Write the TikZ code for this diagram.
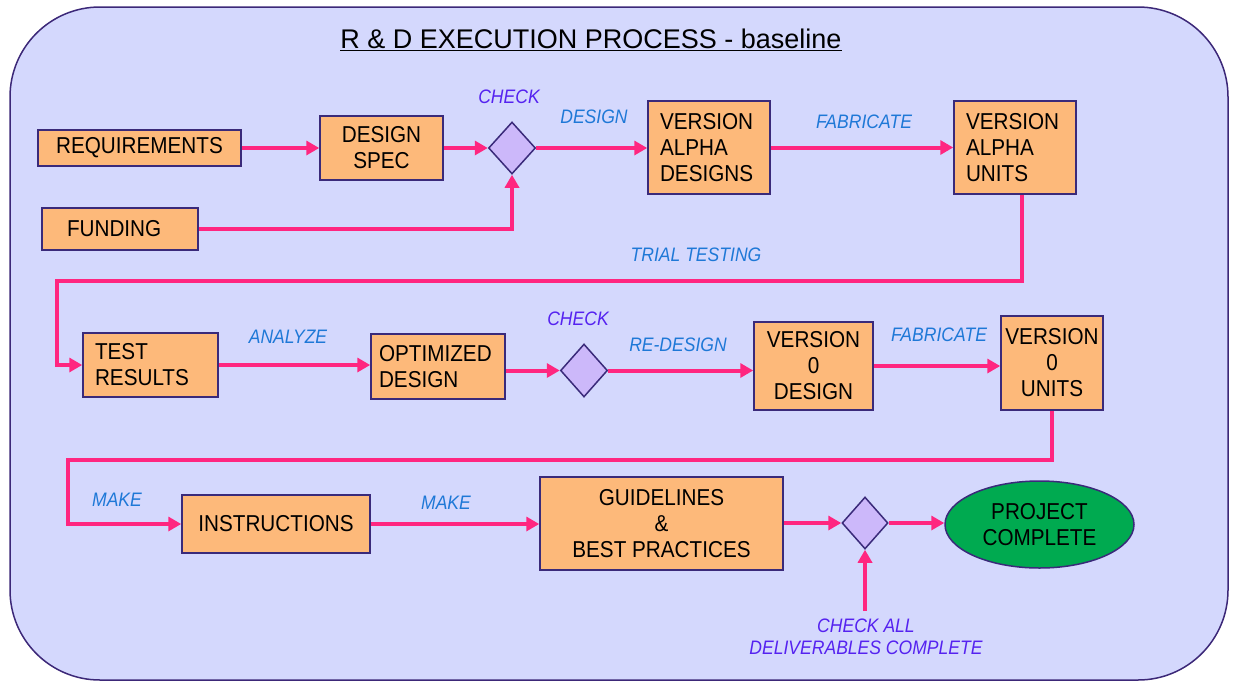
\documentclass[tikz,border=0pt]{standalone}
\usepackage{fontspec}
\setmainfont{Liberation Sans}[FakeStretch=0.9]
\newfontfamily\titlefont{Liberation Sans}
\usetikzlibrary{shapes.geometric,arrows.meta}
\definecolor{bgc}{RGB}{212,216,253}
\definecolor{framec}{RGB}{60,40,120}
\definecolor{boxfill}{RGB}{253,185,122}
\definecolor{boxline}{RGB}{58,42,122}
\definecolor{pinkc}{RGB}{255,38,128}
\definecolor{dfill}{RGB}{204,184,250}
\definecolor{greenc}{RGB}{0,170,80}
\definecolor{lblue}{RGB}{30,120,215}
\definecolor{lpurp}{RGB}{85,34,240}
\tikzset{
  box/.style={draw=boxline, fill=boxfill, line width=1.5pt, rectangle, inner sep=2pt,
    font=\fontsize{23}{26}\selectfont, align=center},
  lbox/.style={box, align=left},
  dia/.style={draw=boxline, fill=dfill, line width=1.5pt, diamond, inner sep=0pt},
  conn/.style={draw=pinkc, line width=4pt, -{Triangle[length=13pt,width=14pt]}},
  plain/.style={draw=pinkc, line width=4pt},
  lbl/.style={font=\fontsize{19.5}{22}\selectfont\itshape, text=lblue, inner sep=0pt},
  chk/.style={font=\fontsize{19.5}{22}\selectfont\itshape, text=lpurp, inner sep=0pt, align=center}
}
\begin{document}
\begin{tikzpicture}[x=1pt,y=-1pt]
\useasboundingbox (0,0) rectangle (1239,683);
\draw[framec, fill=bgc, line width=1.5pt, rounded corners=90pt] (10,7) rectangle (1228,680);
\node[font=\titlefont\fontsize{27}{30}\selectfont] (title) at (591,40) {\underline{R \& D EXECUTION PROCESS - baseline}};

% row 1
\node[box, minimum width=203pt, minimum height=36pt] (req) at (139.5,148) {REQUIREMENTS};
\node[box, minimum width=123pt, minimum height=64pt] (spec) at (381.5,148) {DESIGN\\SPEC};
\node[dia, minimum width=47pt, minimum height=52pt] (d1) at (512,148) {};
\node[lbox, text width=98pt, inner xsep=12pt, minimum height=93pt] (vad) at (709,147.5) {VERSION\\ALPHA\\DESIGNS};
\node[lbox, text width=98pt, inner xsep=12pt, minimum height=93pt] (vau) at (1015,147.5) {VERSION\\ALPHA\\UNITS};
\node[lbox, text width=106pt, inner xsep=25pt, minimum height=42pt] (fund) at (120,229) {FUNDING};

% row 2
\node[lbox, text width=111pt, inner xsep=12pt, minimum height=64pt] (tr) at (150.5,365) {TEST\\RESULTS};
\node[lbox, text width=118pt, inner xsep=8pt, minimum height=65pt] (opt) at (438,366.5) {OPTIMIZED\\DESIGN};
\node[dia, minimum width=47pt, minimum height=53pt] (d2) at (584,370.5) {};
\node[box, minimum width=119pt, minimum height=88pt] (v0d) at (813.5,366) {VERSION\\0\\DESIGN};
\node[box, minimum width=102pt, minimum height=94pt, inner sep=1pt] (v0u) at (1052,363) {VERSION\\0\\UNITS};

% row 3
\node[box, minimum width=188pt, minimum height=58pt] (ins) at (276,524) {INSTRUCTIONS};
\node[box, minimum width=243pt, minimum height=93pt] (guide) at (661.5,523.5) {GUIDELINES\\\&\\BEST PRACTICES};
\node[dia, minimum width=46pt, minimum height=52pt] (d3) at (865,523) {};
\node[draw=boxline, fill=greenc, line width=1.5pt, ellipse, minimum width=189pt, minimum height=87pt, inner sep=0pt, align=center, font=\fontsize{23}{26}\selectfont] (pc) at (1039.5,524.5) {PROJECT\\COMPLETE};

% free ends
\coordinate (c1) at (57,281);
\coordinate (c2) at (68,460);
\coordinate (c3) at (865,611);

% connectors
\draw[conn] (req.east) -- (req.east -| spec.west);
\draw[conn] (spec.east) -- (d1.west);
\draw[conn] (fund.east) -| (d1.south);
\draw[conn] (d1.east) -- (d1.east -| vad.west);
\draw[conn] (vad.east) -- (vad.east -| vau.west);
\draw[conn] ([xshift=7pt]vau.south) |- (c1) |- (tr.west);
\draw[conn] (tr.east) -- (tr.east -| opt.west);
\draw[conn] (opt.east |- d2.west) -- (d2.west);
\draw[conn] (d2.east) -- (d2.east -| v0d.west);
\draw[conn] (v0d.east) -- (v0d.east -| v0u.west);
\draw[conn] (v0u.south) |- (c2) |- (ins.west);
\draw[conn] (ins.east) -- (ins.east -| guide.west);
\draw[conn] (guide.east |- d3.west) -- (d3.west);
\draw[conn] (d3.east) -- (d3.east -| pc.west);
\draw[conn] (c3) -- (d3.south);

% labels
\node[chk] (l1) at (509,97) {CHECK};
\node[lbl] (l2) at (594,117) {DESIGN};
\node[lbl] (l3) at (864,122) {FABRICATE};
\node[lbl] (l4) at (696,255) {TRIAL TESTING};
\node[lbl] (l5) at (288,337) {ANALYZE};
\node[chk] (l6) at (578,319) {CHECK};
\node[lbl] (l7) at (678,345) {RE-DESIGN};
\node[lbl] (l8) at (939,335) {FABRICATE};
\node[lbl] (l9) at (117,500) {MAKE};
\node[lbl] (l10) at (446,503) {MAKE};
\node[chk, font=\fontsize{19.5}{22}\selectfont\itshape] (l11) at (866,637) {CHECK ALL\\DELIVERABLES COMPLETE};
\end{tikzpicture}
\end{document}
